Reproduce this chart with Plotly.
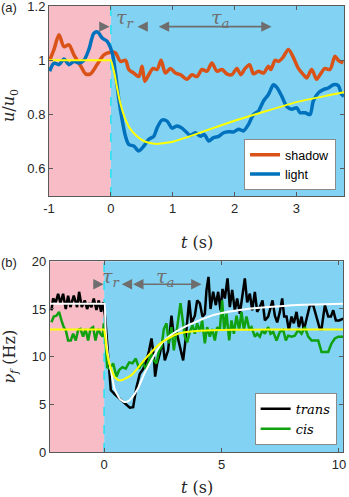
import plotly.graph_objects as go

# (a) vitesse normalisee
t_shadow = [-0.989, -0.919, -0.839, -0.758, -0.677, -0.597, -0.489, -0.409, -0.328, -0.22,
            -0.113, -0.005, 0.075, 0.156, 0.237, 0.29, 0.371, 0.452, 0.505, 0.548,
            0.613, 0.683, 0.747, 0.812, 0.882, 0.962, 1.043, 1.124, 1.231, 1.312,
            1.392, 1.473, 1.554, 1.634, 1.715, 1.796, 1.876, 1.957, 2.038, 2.102,
            2.172, 2.242, 2.306, 2.387, 2.468, 2.548, 2.586, 2.656, 2.71, 2.78,
            2.871, 2.952, 3.032, 3.113, 3.167, 3.247, 3.328, 3.382, 3.462, 3.543,
            3.624, 3.677, 3.758]
shadow = [1.0, 1.04, 1.094, 1.05, 1.057, 1.02, 0.98, 0.95, 0.95, 0.985,
          1.02, 1.03, 1.027, 0.996, 1.0, 0.966, 0.953, 0.94, 0.978, 0.923,
          0.947, 0.97, 0.966, 1.0, 0.953, 0.97, 0.953, 0.947, 0.93, 0.947,
          0.94, 0.966, 0.96, 0.99, 0.96, 0.966, 0.95, 0.947, 0.97, 0.947,
          0.97, 0.984, 0.95, 0.96, 0.953, 0.978, 0.966, 1.0, 0.996, 1.01,
          1.04, 1.01, 0.97, 0.947, 0.935, 0.966, 0.93, 0.947, 0.97, 0.966,
          1.015, 1.0, 0.99]

t_light = [-0.989, -0.919, -0.839, -0.758, -0.677, -0.597, -0.516, -0.435, -0.355, -0.274,
           -0.21, -0.14, -0.059, 0.022, 0.075, 0.129, 0.183, 0.237, 0.29, 0.371,
           0.452, 0.532, 0.613, 0.694, 0.747, 0.828, 0.909, 0.989, 1.07, 1.151,
           1.231, 1.285, 1.366, 1.446, 1.511, 1.581, 1.661, 1.742, 1.823, 1.903,
           1.984, 2.065, 2.145, 2.226, 2.306, 2.387, 2.468, 2.548, 2.629, 2.683,
           2.763, 2.844, 2.925, 3.005, 3.059, 3.14, 3.22, 3.274, 3.355, 3.435,
           3.516, 3.597, 3.677, 3.731, 3.769]
light = [0.96, 0.99, 0.984, 1.005, 0.984, 0.996, 0.99, 1.0, 1.04, 1.1,
         1.104, 1.082, 1.07, 1.027, 0.953, 0.856, 0.78, 0.72, 0.69, 0.684,
         0.666, 0.684, 0.709, 0.72, 0.75, 0.78, 0.776, 0.75, 0.758, 0.75,
         0.733, 0.723, 0.733, 0.72, 0.727, 0.703, 0.715, 0.72, 0.733, 0.737,
         0.736, 0.746, 0.74, 0.764, 0.8, 0.813, 0.85, 0.874, 0.91, 0.9,
         0.868, 0.83, 0.82, 0.825, 0.807, 0.807, 0.8, 0.85, 0.88, 0.892,
         0.898, 0.91, 0.907, 0.874, 0.868]

t_fit_a = [-1.0, -0.01, 0.0, 0.05, 0.1, 0.15, 0.2, 0.25, 0.3, 0.4, 0.5, 0.6, 0.75, 0.9,
           1.0, 1.25, 1.5, 2.0, 2.5, 3.0, 3.5, 3.77]
fit_a = [1.0, 1.0, 1.0, 0.96, 0.9, 0.845, 0.805, 0.775, 0.752, 0.725, 0.707, 0.697, 0.692, 0.696,
         0.7, 0.718, 0.738, 0.777, 0.812, 0.846, 0.87, 0.882]

# (b) frequence
t_trans = [-2.244, -2.173, -2.06, -1.96, -1.861, -1.747, -1.634, -1.534, -1.435, -1.293,
           -1.151, -1.065, -0.952, -0.824, -0.724, -0.639, -0.54, -0.44, -0.327, -0.227,
           -0.128, -0.043, 0.043, 0.17, 0.284, 0.455, 0.668, 0.881, 1.094, 1.236,
           1.378, 1.52, 1.662, 1.804, 1.918, 2.017, 2.116, 2.173, 2.259, 2.372,
           2.486, 2.585, 2.727, 2.869, 2.969, 3.082, 3.224, 3.366, 3.452, 3.537,
           3.622, 3.722, 3.864, 3.963, 4.077, 4.19, 4.29, 4.361, 4.446, 4.531,
           4.645, 4.759, 4.858, 4.957, 5.043, 5.142, 5.256, 5.355, 5.455, 5.568,
           5.668, 5.781, 5.881, 5.994, 6.094, 6.207, 6.307, 6.42, 6.52, 6.634,
           6.747, 6.847, 6.989, 7.088, 7.173, 7.273, 7.372, 7.486, 7.585, 7.67,
           7.77, 7.869, 7.983, 8.082, 8.196, 8.295, 8.409, 8.509, 8.622, 8.764,
           8.906, 9.048, 9.19, 9.261, 9.403, 9.545, 9.659, 9.759, 9.872, 10.014,
           10.185]
trans = [14.86, 16.1, 15.7, 16.6, 15.6, 16.6, 15.0, 16.4, 15.2, 16.4,
         15.2, 16.8, 15.2, 15.9, 15.0, 15.6, 15.2, 16.1, 14.9, 15.9,
         14.7, 15.7, 14.2, 10.3, 6.5, 6.05, 5.6, 5.07, 4.65, 4.7,
         6.8, 8.2, 8.7, 9.6, 10.66, 11.9, 10.1, 7.9, 9.3, 10.3,
         11.7, 9.6, 10.66, 14.3, 12.1, 12.6, 11.2, 9.6, 11.4, 13.6,
         15.9, 13.5, 14.3, 15.9, 15.6, 14.2, 14.5, 17.0, 18.36, 15.0,
         16.8, 15.4, 16.8, 14.86, 17.1, 16.1, 18.2, 15.2, 17.0, 14.86,
         16.1, 14.5, 16.4, 18.2, 15.7, 16.6, 14.86, 16.8, 14.7, 15.2,
         15.9, 13.8, 14.2, 15.0, 15.9, 14.3, 13.6, 14.7, 16.1, 14.2,
         14.2, 12.8, 14.2, 13.5, 14.7, 13.1, 14.2, 12.8, 14.0, 15.4,
         15.4, 14.0, 12.9, 12.9, 15.4, 14.2, 14.2, 14.86, 13.8, 13.8,
         14.0]

t_cis = [-2.244, -2.145, -2.031, -1.918, -1.818, -1.719, -1.634, -1.534, -1.42, -1.321,
         -1.207, -1.108, -1.009, -0.895, -0.795, -0.682, -0.582, -0.469, -0.369, -0.256,
         -0.156, -0.057, -0.014, 0.071, 0.128, 0.241, 0.384, 0.526, 0.639, 0.781,
         0.923, 1.065, 1.207, 1.349, 1.491, 1.634, 1.776, 1.918, 2.017, 2.116,
         2.23, 2.344, 2.443, 2.543, 2.656, 2.756, 2.869, 2.969, 3.082, 3.182,
         3.253, 3.338, 3.438, 3.537, 3.651, 3.764, 3.864, 3.963, 4.077, 4.176,
         4.29, 4.389, 4.503, 4.602, 4.716, 4.815, 4.929, 5.028, 5.114, 5.213,
         5.327, 5.426, 5.526, 5.639, 5.753, 5.852, 5.952, 6.065, 6.179, 6.278,
         6.42, 6.52, 6.634, 6.747, 6.847, 6.989, 7.088, 7.202, 7.344, 7.486,
         7.628, 7.741, 7.841, 7.983, 8.125, 8.267, 8.409, 8.551, 8.693, 8.835,
         8.977, 9.119, 9.261, 9.403, 9.545, 9.688, 9.83, 9.972, 10.185]
cis = [13.6, 14.2, 14.3, 14.7, 13.8, 13.1, 12.8, 11.7, 11.7, 12.4,
       11.7, 12.8, 12.9, 12.1, 12.9, 11.7, 12.9, 13.1, 11.7, 12.9,
       12.4, 12.1, 13.5, 11.4, 8.9, 8.74, 9.3, 7.9, 8.6, 8.9,
       8.74, 9.4, 9.3, 9.8, 8.74, 9.4, 8.74, 9.8, 10.3, 9.6,
       9.3, 10.66, 11.0, 12.9, 13.5, 11.4, 13.1, 10.66, 12.4, 14.3,
       15.6, 14.0, 12.1, 11.5, 12.6, 13.3, 12.4, 13.5, 12.6, 13.8,
       11.4, 13.1, 12.1, 12.9, 11.7, 13.1, 12.8, 15.9, 12.8, 14.5,
       11.7, 13.8, 12.4, 14.3, 12.8, 14.7, 12.8, 14.2, 12.9, 13.1,
       12.1, 12.4, 12.1, 12.8, 12.4, 13.1, 12.4, 12.6, 11.7, 12.6,
       12.8, 11.7, 12.2, 12.1, 12.2, 12.8, 12.4, 13.1, 12.1, 11.7,
       11.7, 11.7, 10.5, 10.5, 10.5, 11.4, 11.9, 12.1, 12.1]

t_fit_cis = [-2.31, -0.01, 0.0, 0.05, 0.1, 0.2, 0.3, 0.44, 0.6, 0.73, 0.9, 1.15, 1.4, 1.58,
             1.8, 2.1, 2.45, 2.8, 3.15, 3.6, 4.1, 4.6, 5.5, 7.0, 8.5, 10.18]
fit_cis = [12.85, 12.85, 12.85, 12.0, 10.8, 9.5, 8.75, 7.9, 7.55, 7.52, 7.7, 8.04, 8.7, 9.27,
           9.9, 10.7, 11.5, 12.0, 12.4, 12.6, 12.72, 12.78, 12.82, 12.84, 12.85, 12.85]

t_fit_trans = [-2.31, 0.0, 0.02, 0.06, 0.12, 0.2, 0.3, 0.44, 0.66, 0.87, 1.0, 1.15, 1.44,
               1.73, 2.1, 2.45, 2.8, 3.15, 3.5, 3.86, 4.58, 5.3, 6.0, 7.0, 8.0, 9.0, 10.18]
fit_trans = [15.56, 15.56, 15.56, 13.0, 11.0, 9.6, 8.4, 6.65, 5.6, 5.24, 5.3, 5.6, 6.65,
             8.3, 10.0, 11.4, 12.2, 12.76, 13.2, 13.6, 14.3, 14.7, 14.97, 15.2, 15.38, 15.48, 15.56]

PINK = '#f7bcc6'
BLUE = '#82d3f3'
GREY = '#6e6e6e'
SANS = 'Liberation Sans, Arial, sans-serif'
SERIF = 'DejaVu Serif, serif'

fig = go.Figure()

fig.add_trace(go.Scatter(x=t_shadow, y=shadow, name='shadow', mode='lines',
                         line=dict(color='#d95319', width=3.5, shape='spline', smoothing=0.8),
                         xaxis='x', yaxis='y', legend='legend'))
fig.add_trace(go.Scatter(x=t_light, y=light, name='light', mode='lines',
                         line=dict(color='#0072bd', width=3.5, shape='spline', smoothing=0.8),
                         xaxis='x', yaxis='y', legend='legend'))
fig.add_trace(go.Scatter(x=t_fit_a, y=fit_a, mode='lines', showlegend=False,
                         line=dict(color='#ffff00', width=2, shape='spline', smoothing=0.5),
                         xaxis='x', yaxis='y'))

fig.add_trace(go.Scatter(x=t_trans, y=trans, name='<i>trans</i>', mode='lines',
                         line=dict(color='black', width=2.5), xaxis='x2', yaxis='y2', legend='legend2'))
fig.add_trace(go.Scatter(x=t_cis, y=cis, name='<i>cis</i>', mode='lines',
                         line=dict(color='#10a010', width=2.5), xaxis='x2', yaxis='y2', legend='legend2'))
fig.add_trace(go.Scatter(x=t_fit_trans, y=fit_trans, mode='lines', showlegend=False,
                         line=dict(color='white', width=2, shape='spline', smoothing=0.5),
                         xaxis='x2', yaxis='y2'))
fig.add_trace(go.Scatter(x=t_fit_cis, y=fit_cis, mode='lines', showlegend=False,
                         line=dict(color='#ffff00', width=2, shape='spline', smoothing=0.5),
                         xaxis='x2', yaxis='y2'))

shapes = []
for xr, yr, x0, x1 in [('x', 'y', -1.0, 3.77), ('x2', 'y2', -2.31, 10.18)]:
    shapes.append(dict(type='rect', xref=xr, yref=yr + ' domain', x0=x0, x1=0, y0=0, y1=1,
                       fillcolor=PINK, line_width=0, layer='below'))
    shapes.append(dict(type='rect', xref=xr, yref=yr + ' domain', x0=0, x1=x1, y0=0, y1=1,
                       fillcolor=BLUE, line_width=0, layer='below'))
    shapes.append(dict(type='line', xref=xr, yref=yr + ' domain', x0=0, x1=0, y0=0, y1=1,
                       line=dict(color='#22e4f2', width=1.5, dash='dash'), layer='below'))


def fleche(xr, yr, x, y, ax, side='end'):
    return dict(xref=xr, yref=yr, axref=xr, ayref=yr, x=x, y=y, ax=ax, ay=y, text='',
                showarrow=True, arrowhead=2, arrowsize=1.3, arrowwidth=1.6,
                arrowcolor=GREY, arrowside=side)


def tau(xr, yr, x, y, sub):
    return dict(xref=xr, yref=yr, x=x, y=y, showarrow=False,
                text='<i>τ<sub>%s</sub></i>' % sub, font=dict(family=SERIF, size=19, color=GREY))


def titre(x, y, txt, angle=0):
    return dict(xref='paper', yref='paper', x=x, y=y, text=txt, showarrow=False, textangle=angle,
                xanchor='center', yanchor='middle', font=dict(family=SERIF, size=16, color='#262626'))


annotations = [
    fleche('x', 'y', -0.02, 1.124, -0.14),
    fleche('x', 'y', 0.43, 1.124, 0.58),
    fleche('x', 'y', 2.6, 1.124, 0.75, 'end+start'),
    tau('x', 'y', 0.24, 1.155, 'r'),
    tau('x', 'y', 1.77, 1.155, 'a'),
    fleche('x2', 'y2', -0.02, 17.6, -0.5),
    fleche('x2', 'y2', 0.75, 17.6, 1.15),
    fleche('x2', 'y2', 4.15, 17.6, 1.17, 'end+start'),
    tau('x2', 'y2', 0.3, 18.3, 'r'),
    tau('x2', 'y2', 2.6, 18.3, 'a'),
    dict(xref='paper', yref='paper', x=-0.168, y=0.997, xanchor='left', yanchor='middle',
         text='(a)', showarrow=False, font=dict(family=SANS, size=13, color='#262626')),
    dict(xref='paper', yref='paper', x=-0.168, y=0.425, xanchor='left', yanchor='middle',
         text='(b)', showarrow=False, font=dict(family=SANS, size=13, color='#262626')),
    # titres d'axes
    titre(0.502, 0.47, '<i>t</i> (s)'),
    titre(0.502, -0.079, '<i>t</i> (s)'),
    titre(-0.132, 0.776, '<i>u</i>/<i>u</i><sub>0</sub>', -90),
    titre(-0.132, 0.214, '<i>ν<sub>f</sub></i> (Hz)', -90),
]

axe = dict(showgrid=False, zeroline=False, showline=True, linecolor='#5a5a5a', linewidth=1,
           mirror='ticks', ticks='inside', ticklen=4, tickcolor='#5a5a5a', automargin=False,
           ticklabeloverflow='allow', tickfont=dict(family=SANS, size=13, color='#262626'))

fig.update_layout(
    width=349, height=497,
    margin=dict(l=49, r=5, t=6, b=45, autoexpand=False),
    paper_bgcolor='white', plot_bgcolor='white',
    shapes=shapes, annotations=annotations,
    xaxis=dict(axe, domain=[0, 1], range=[-1.0, 3.77], anchor='y',
               tickvals=[-1, 0, 1, 2, 3], ticktext=['-1', '0', '1', '2', '3']),
    yaxis=dict(axe, domain=[0.574, 1], range=[0.5, 1.2001], anchor='x',
               tickvals=[0.6, 0.8, 1.0, 1.2], ticktext=['0.6', '0.8', '1', '1.2']),
    xaxis2=dict(axe, domain=[0.003, 0.997], range=[-2.31, 10.18], anchor='y2',
                tickvals=[0, 5, 10]),
    yaxis2=dict(axe, domain=[0, 0.4276], range=[0, 20.001], anchor='x2',
                tickvals=[0, 5, 10, 15, 20]),
    legend=dict(x=0.973, y=0.587, xanchor='right', yanchor='bottom', bgcolor='white',
                bordercolor='#8a8a8a', borderwidth=1, tracegroupgap=0,
                font=dict(family=SANS, size=12.5, color='black')),
    legend2=dict(x=0.975, y=0.016, xanchor='right', yanchor='bottom', bgcolor='white',
                 bordercolor='#8a8a8a', borderwidth=1,
                 font=dict(family=SERIF, size=13, color='black')),
)

# la page a une marge par defaut de 8 px : on la retire
fig.write_html("out.html", config={'displayModeBar': False},
               post_script="document.body.style.margin='0';")
